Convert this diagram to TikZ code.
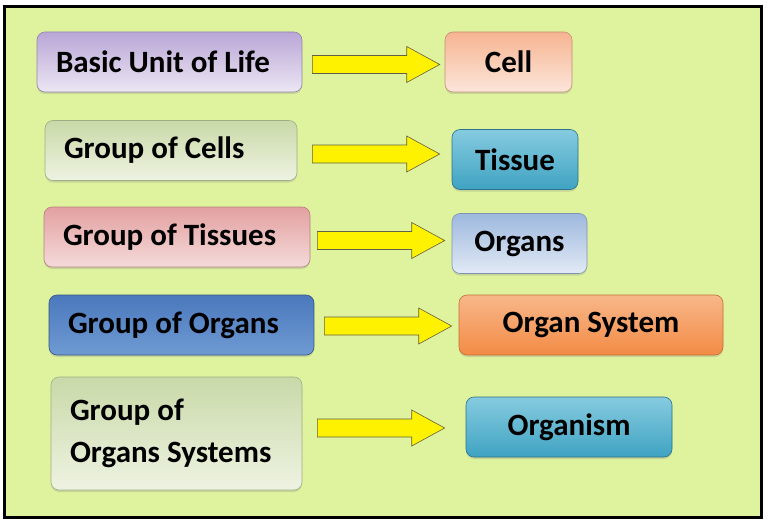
\documentclass[tikz,border=0pt]{standalone}
\usepackage{fontspec}
\setmainfont{Carlito}
\usepackage{tikz}
\usetikzlibrary{calc,shadows}

\definecolor{bggreen}{HTML}{DFF39E}
\definecolor{purpleA}{HTML}{B9A6D6}
\definecolor{purpleB}{HTML}{ECE6F4}
\definecolor{greenA}{HTML}{C9D9A8}
\definecolor{greenB}{HTML}{EEF3E2}
\definecolor{pinkA}{HTML}{E3A0A0}
\definecolor{pinkB}{HTML}{F5DADA}
\definecolor{blueA}{HTML}{4A78BC}
\definecolor{blueB}{HTML}{6F9BD3}
\definecolor{peachA}{HTML}{F6B491}
\definecolor{peachB}{HTML}{FCE6DA}
\definecolor{tealA}{HTML}{3FA3C2}
\definecolor{tealB}{HTML}{86CBE0}
\definecolor{lblueA}{HTML}{9DB8DE}
\definecolor{lblueB}{HTML}{E2EAF5}
\definecolor{orangeA}{HTML}{F38B45}
\definecolor{orangeB}{HTML}{F8B78A}

\begin{document}
\begin{tikzpicture}[x=1pt,y=-1pt,
  box/.style={rounded corners=8pt, line width=0.6pt, inner sep=0pt,
    font=\fontsize{31}{42}\selectfont\bfseries,
    drop shadow={shadow xshift=0pt,shadow yshift=-2pt,opacity=0.25}},
  lbox/.style={box, text width=#1, inner xsep=19pt, align=left, minimum height=60pt,
    execute at begin node={\spaceskip=0pt\xspaceskip=0pt}},
  rbox/.style={box, minimum width=#1, minimum height=60pt},
  arrowfill/.style={fill=yellow, draw=black!70!yellow, line width=0.6pt},
  blockarrow/.style n args={3}{to path={let \p1=(\tikztostart.east), \p2=(\tikztotarget.west) in
    (\x1+#1,\y1+#3+9pt) -- (\x2-#2-33pt,\y1+#3+9pt) -- (\x2-#2-33pt,\y1+#3+18pt)
    -- (\x2-#2,\y1+#3) -- (\x2-#2-33pt,\y1+#3-18pt) -- (\x2-#2-33pt,\y1+#3-9pt)
    -- (\x1+#1,\y1+#3-9pt) -- cycle}}]
  % frame
  \fill[white] (0,0) rectangle (768,524);
  \draw[line width=3pt, fill=bggreen] (4.5,6.5) rectangle (761,517);
  % left column
  \node[lbox=227pt, draw=purpleA!80!black, top color=purpleA, bottom color=purpleB] (life) at (169.5,62) {Basic Unit of Life};
  \node[lbox=214pt, draw=greenA!80!black, top color=greenA, bottom color=greenB] (cells) at (171,150.5) {Group of Cells};
  \node[lbox=228pt, draw=pinkA!80!black, top color=pinkA, bottom color=pinkB] (tissues) at (177,237) {Group of Tissues};
  \node[lbox=227pt, draw=blueA!70!black, top color=blueA, bottom color=blueB] (organs) at (181.5,325) {Group of Organs};
  \node[lbox=213pt, minimum height=113pt, draw=greenA!80!black, top color=greenA, bottom color=greenB] (systems) at (176.5,433.5) {Group of\\Organs Systems};
  % right column
  \node[rbox=127pt, draw=peachA!80!black, top color=peachA, bottom color=peachB] (cell) at (508.5,62) {Cell};
  \node[rbox=126pt, draw=tealA!70!black, top color=tealB, bottom color=tealA] (tissue) at (515,159.5) {Tissue};
  \node[rbox=135pt, draw=lblueA!80!black, top color=lblueA, bottom color=lblueB] (organ) at (519.5,243.5) {Organs};
  \node[rbox=264pt, draw=orangeA!80!black, top color=orangeB, bottom color=orangeA] (orgsys) at (591,325) {Organ System};
  \node[rbox=206pt, draw=tealA!70!black, top color=tealB, bottom color=tealA] (organism) at (569,427) {Organism};
  % arrows
  \draw[arrowfill, blockarrow={10pt}{5pt}{-2.5pt}] (life) to (cell);
  \draw[arrowfill, blockarrow={15pt}{12pt}{-3.5pt}] (cells) to (tissue);
  \draw[arrowfill, blockarrow={7pt}{7pt}{-3.5pt}] (tissues) to (organ);
  \draw[arrowfill, blockarrow={10pt}{7pt}{-1pt}] (organs) to (orgsys);
  \draw[arrowfill, blockarrow={15pt}{21pt}{5.5pt}] (systems) to (organism);
\end{tikzpicture}
\end{document}
